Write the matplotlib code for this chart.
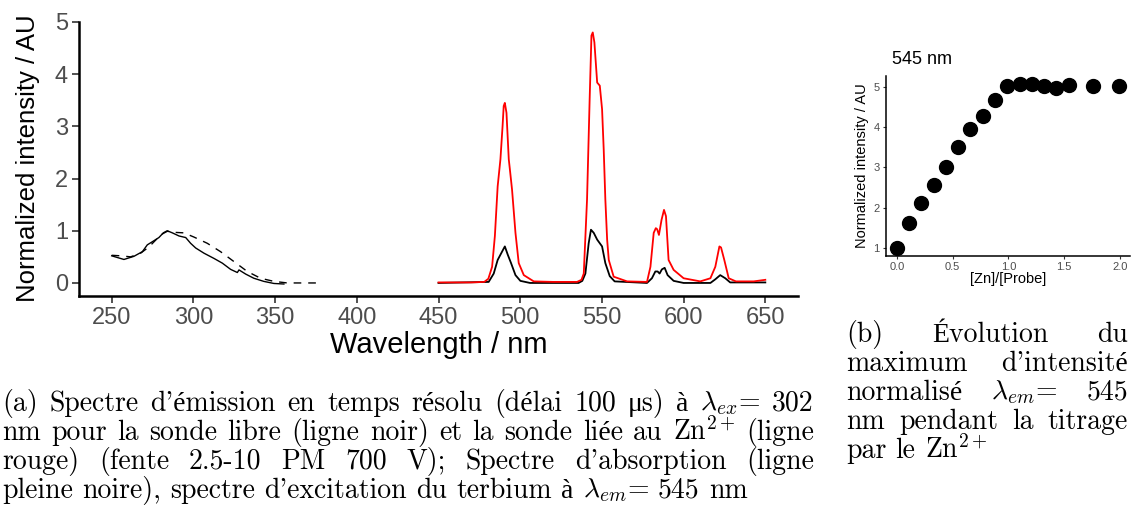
import matplotlib
matplotlib.use("Agg")
import matplotlib.pyplot as plt

W, H = 1141, 527

# emission, Zn-bound probe (red)
red_wl = [450, 470, 478, 480.5, 482.8, 484.5, 486.2, 487.9, 489.2, 489.9, 490.6, 491.6, 493, 493.6,
          495, 497.1, 499.1, 502.2, 508.3, 520, 534.8, 537.5, 538.9, 540.9, 542.5, 543.6, 544.4,
          545.4, 547.1, 548.7, 550.1, 551.1, 552.1, 553.2, 554.2, 557.2, 565.4, 577.6, 579.7, 581.7,
          583, 583.8, 584.9, 586.5, 588, 589.2, 590.8, 593.9, 600, 610.2, 616.4, 619.4, 621.9,
          622.9, 624.9, 627.6, 632, 642.9, 650]
red_I = [0.01, 0.01, 0.02, 0.08, 0.31, 0.9, 1.85, 2.37, 3.0, 3.39, 3.45, 3.26, 2.37, 2.2,
         1.79, 0.96, 0.38, 0.15, 0.03, 0.02, 0.02, 0.06, 0.18, 1.6, 3.52, 4.74, 4.80,
         4.61, 3.84, 3.78, 3.33, 2.56, 1.6, 0.83, 0.44, 0.12, 0.03, 0.02, 0.31, 0.96,
         1.05, 1.03, 0.92, 1.21, 1.40, 1.28, 0.44, 0.25, 0.09, 0.03, 0.09, 0.31, 0.70,
         0.68, 0.44, 0.09, 0.03, 0.03, 0.06]

# emission, free probe (black)
blk_wl = [450, 480.7, 483.8, 486.2, 488.9, 490.6, 492.4, 494.4, 497.1, 500.1, 506, 535.7, 538,
          539.9, 541.9, 543.3, 545, 547.1, 550.1, 552.1, 554.8, 557.8, 577.6, 580.6, 582.7,
          584.1, 585.3, 586.7, 588.4, 590.2, 593.9, 600, 616.4, 619.4, 622.4, 625.5, 628.5, 650]
blk_I = [0.0, 0.02, 0.18, 0.44, 0.60, 0.70, 0.54, 0.38, 0.15, 0.04, 0.0, 0.0, 0.04,
         0.18, 0.76, 1.02, 0.96, 0.83, 0.70, 0.38, 0.13, 0.03, 0.0, 0.09, 0.22,
         0.22, 0.18, 0.26, 0.29, 0.15, 0.04, 0.0, 0.0, 0.07, 0.15, 0.09, 0.01, 0.01]

# absorption (solid)
abs_wl = [250, 257.5, 263.6, 268.8, 271.8, 274.9, 278.9, 281.6, 284, 287.1, 291.2, 295.3, 298.3,
          301.4, 306.5, 312.6, 317.7, 322.8, 326.9, 327.9, 332, 337, 343.1, 349.3, 355.4]
abs_I = [0.52, 0.45, 0.51, 0.60, 0.73, 0.79, 0.87, 0.96, 1.0, 0.96, 0.90, 0.87, 0.76,
         0.67, 0.57, 0.47, 0.38, 0.26, 0.20, 0.25, 0.17, 0.09, 0.03, -0.01, -0.02]

# excitation (dashed)
exc_wl = [250, 255.5, 261.6, 267.7, 272.8, 276.9, 279.9, 284, 288.1, 294.2, 300.3, 308.5,
          316.6, 324.8, 333, 341.1, 349.3, 357.5, 376.1]
exc_I = [0.53, 0.52, 0.50, 0.57, 0.69, 0.82, 0.92, 0.99, 0.97, 0.96, 0.88, 0.76,
         0.60, 0.41, 0.22, 0.09, 0.03, 0.0, 0.0]

# titration
ratio = [0.0, 0.11, 0.22, 0.33, 0.44, 0.55, 0.66, 0.77, 0.88, 0.99, 1.10, 1.21, 1.32, 1.43,
         1.54, 1.76, 1.99]
inten = [1.0, 1.62, 2.12, 2.56, 3.0, 3.51, 3.95, 4.28, 4.68, 5.03, 5.06, 5.07, 5.03, 4.98,
         5.05, 5.02, 5.02]

cap_a = [r"(a) Spectre d'émission en temps résolu (délai 100 μs) à $\lambda_{ex}$= 302",
         r"nm pour la sonde libre (ligne noir) et la sonde liée au Zn$^{2+}$ (ligne",
         r"rouge) (fente 2.5-10 PM 700 V); Spectre d'absorption (ligne",
         r"pleine noire), spectre d'excitation du terbium à $\lambda_{em}$= 545 nm"]
cap_b = [r"(b) Évolution du",
         r"maximum d'intensité",
         r"normalisé $\lambda_{em}$= 545",
         r"nm pendant la titrage",
         r"par le Zn$^{2+}$"]

plt.rcParams['font.family'] = ['Liberation Sans', 'DejaVu Sans']
plt.rcParams['mathtext.fontset'] = 'cm'
grey = '#4D4D4D'

fig = plt.figure(figsize=(W / 100, H / 100), dpi=100)


def box(l, t, r, b):
    return [l / W, 1 - b / H, (r - l) / W, (b - t) / H]


# ---- panel (a)
ax = fig.add_axes(box(79, 22, 798, 296))
ax.plot(abs_wl, abs_I, color='black', lw=1.0)
ax.plot(exc_wl, exc_I, color='black', lw=1.0, ls=(0, (5.5, 5)))
ax.plot(blk_wl, blk_I, color='black', lw=1.3)
ax.plot(red_wl, red_I, color='red', lw=1.3)
ax.set_xlim(230, 670)
ax.set_ylim(-0.25, 5.0)
ax.set_xticks(range(250, 651, 50))
ax.set_yticks(range(0, 6))
for s in ['top', 'right']:
    ax.spines[s].set_visible(False)
for s in ['left', 'bottom']:
    ax.spines[s].set_linewidth(1.8)
    ax.spines[s].set_capstyle('projecting')
ax.tick_params(length=5, width=1.2, color='#333333', labelsize=17, labelcolor=grey, pad=3)
fig.text(438.5 / W, 1 - 353 / H, 'Wavelength / nm', ha='center', va='baseline', fontsize=21)
fig.text(35 / W, 1 - 158 / H, 'Normalized intensity / AU', ha='center', va='baseline',
         rotation=90, rotation_mode='anchor', fontsize=18.5)

# ---- panel (b)
bx = fig.add_axes(box(885.7, 76, 1130, 256))
bx.scatter(ratio, inten, s=100, color='black', zorder=3, clip_on=False)
bx.set_xlim(-0.1, 2.09)
bx.set_ylim(0.8, 5.27)
bx.set_xticks([0.0, 0.5, 1.0, 1.5, 2.0])
bx.set_xticklabels(['0.0', '0.5', '1.0', '1.5', '2.0'])
bx.set_yticks(range(1, 6))
for s in ['top', 'right']:
    bx.spines[s].set_visible(False)
for s in ['left', 'bottom']:
    bx.spines[s].set_linewidth(1.1)
    bx.spines[s].set_capstyle('projecting')
bx.tick_params(length=2.5, width=0.8, color='#333333', labelsize=8, labelcolor=grey, pad=2)
fig.text(1008 / W, 1 - 283 / H, '[Zn]/[Probe]', ha='center', va='baseline', fontsize=10.5)
fig.text(866 / W, 1 - 166 / H, 'Normalized intensity / AU', ha='center', va='baseline',
         rotation=90, rotation_mode='anchor', fontsize=10.5)
fig.text(892 / W, 1 - 64 / H, '545 nm', ha='left', va='baseline', fontsize=13)

# ---- captions, justified like the LaTeX source
cap_size = 20
cap_font = dict(fontsize=cap_size, family=['cmr10', 'Liberation Serif'], va='baseline')
space = 0.333 * cap_size * 100 / 72
renderer = fig.canvas.get_renderer()


def justify(lines, x0, x1, y0, dy):
    for i, line in enumerate(lines):
        y = 1 - (y0 + i * dy) / H
        words = line.split(' ')
        texts = [fig.text(0, y, w, **cap_font) for w in words]
        widths = [t.get_window_extent(renderer).width for t in texts]
        if i == len(lines) - 1:
            gap = space
        else:
            gap = ((x1 - x0) - sum(widths)) / (len(words) - 1)
        x = x0
        for t, w in zip(texts, widths):
            t.set_x(x / W)
            x += w + gap


justify(cap_a, 2, 814, 410.7, 29)
justify(cap_b, 846, 1128, 341.7, 29)

fig.savefig('out.png', dpi=100)
